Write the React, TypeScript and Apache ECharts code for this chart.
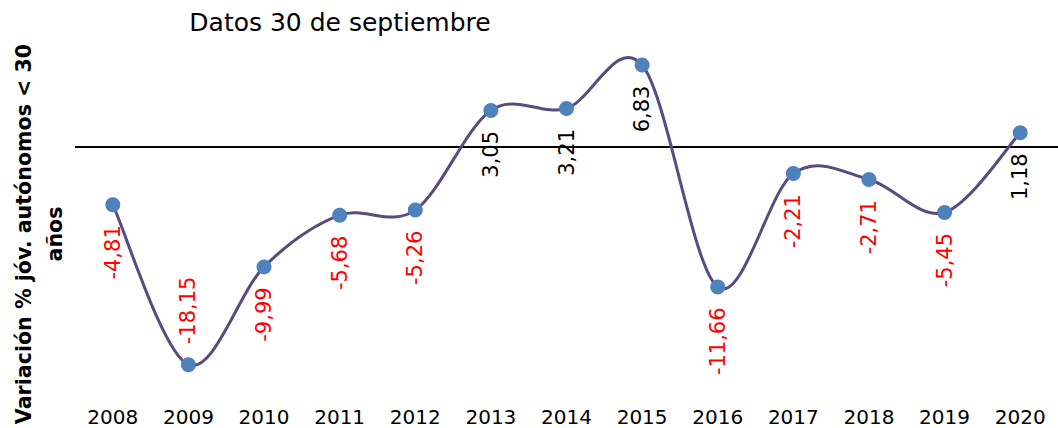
import React, { useEffect, useRef } from "react";
import * as echarts from "echarts";

const years = ["2008", "2009", "2010", "2011", "2012", "2013", "2014", "2015", "2016", "2017", "2018", "2019", "2020"];
const values = [-4.81, -18.15, -9.99, -5.68, -5.26, 3.05, 3.21, 6.83, -11.66, -2.21, -2.71, -5.45, 1.18];
const labelAbove = [false, true, false, false, false, false, false, false, false, false, false, false, false];
const title = "Datos 30 de septiembre";
const yName = "Variación % jóv. autónomos < 30\naños";

export default function App() {
  const ref = useRef<HTMLDivElement>(null);
  useEffect(() => {
    if (!ref.current) return;
    const chart = echarts.init(ref.current, undefined, { renderer: "svg" });
    const font = "DejaVu Sans";
    const n = values.length;
    chart.setOption({
      animation: false,
      backgroundColor: "#ffffff",
      grid: { left: 75, right: -8, top: 27, bottom: 41 },
      xAxis: {
        type: "category",
        data: years,
        boundaryGap: true,
        axisLine: { show: false },
        axisTick: { show: false },
        axisLabel: { color: "#000", fontFamily: font, fontSize: 20, margin: 20 },
        splitLine: { show: false },
      },
      yAxis: {
        type: "value",
        min: -20,
        max: 10,
        show: false,
        splitLine: { show: false },
      },
      graphic: [
        {
          type: "text",
          x: 340,
          y: 22,
          style: { text: title, font: `25px '${font}'`, fill: "#000", align: "center", verticalAlign: "middle" },
        },
        {
          type: "text",
          x: 39,
          y: 234,
          rotation: Math.PI / 2,
          style: {
            text: yName,
            font: `bold 20.6px '${font}'`,
            fill: "#000",
            align: "center",
            verticalAlign: "middle",
            lineHeight: 31,
          },
        },
      ],
      series: [
        {
          type: "custom",
          data: values.map((v, i) => [i, v]),
          z: 2,
          silent: true,
          renderItem: (params: any, api: any) => {
            const i = params.dataIndex;
            if (i >= n - 1) return null;
            const pt = (k: number) => {
              const kk = Math.max(0, Math.min(n - 1, k));
              return api.coord([kk, values[kk]]);
            };
            const p0 = pt(i - 1);
            const p1 = pt(i);
            const p2 = pt(i + 1);
            const p3 = pt(i + 2);
            const t = 1 / 6;
            return {
              type: "bezierCurve",
              shape: {
                x1: p1[0],
                y1: p1[1],
                x2: p2[0],
                y2: p2[1],
                cpx1: p1[0] + (p2[0] - p0[0]) * t,
                cpy1: p1[1] + (p2[1] - p0[1]) * t,
                cpx2: p2[0] - (p3[0] - p1[0]) * t,
                cpy2: p2[1] - (p3[1] - p1[1]) * t,
              },
              style: { stroke: "#594A7F", lineWidth: 3, fill: "none", lineCap: "round" },
            };
          },
        },
        {
          type: "line",
          data: values.map((v, i) => ({
            value: v,
            label: labelAbove[i]
              ? { position: "top", align: "left", color: v < 0 ? "#ff0000" : "#000000" }
              : { color: v < 0 ? "#ff0000" : "#000000" },
          })),
          symbol: "circle",
          symbolSize: 15,
          itemStyle: { color: "#4F81BD" },
          lineStyle: { opacity: 0, width: 0 },
          z: 3,
          label: {
            show: true,
            position: "bottom",
            distance: 13,
            rotate: 90,
            align: "right",
            verticalAlign: "middle",
            fontFamily: font,
            fontSize: 21,
            formatter: (p: any) => p.value.toFixed(2).replace(".", ","),
          },
          markLine: {
            silent: true,
            symbol: "none",
            label: { show: false },
            lineStyle: { color: "#000", width: 2, type: "solid" },
            data: [{ yAxis: 0 }],
            z: 1,
          },
        },
      ],
    });
    return () => chart.dispose();
  }, []);
  return <div ref={ref} style={{ width: 1058, height: 428, position: "absolute", left: 0, top: 0 }} />;
}
